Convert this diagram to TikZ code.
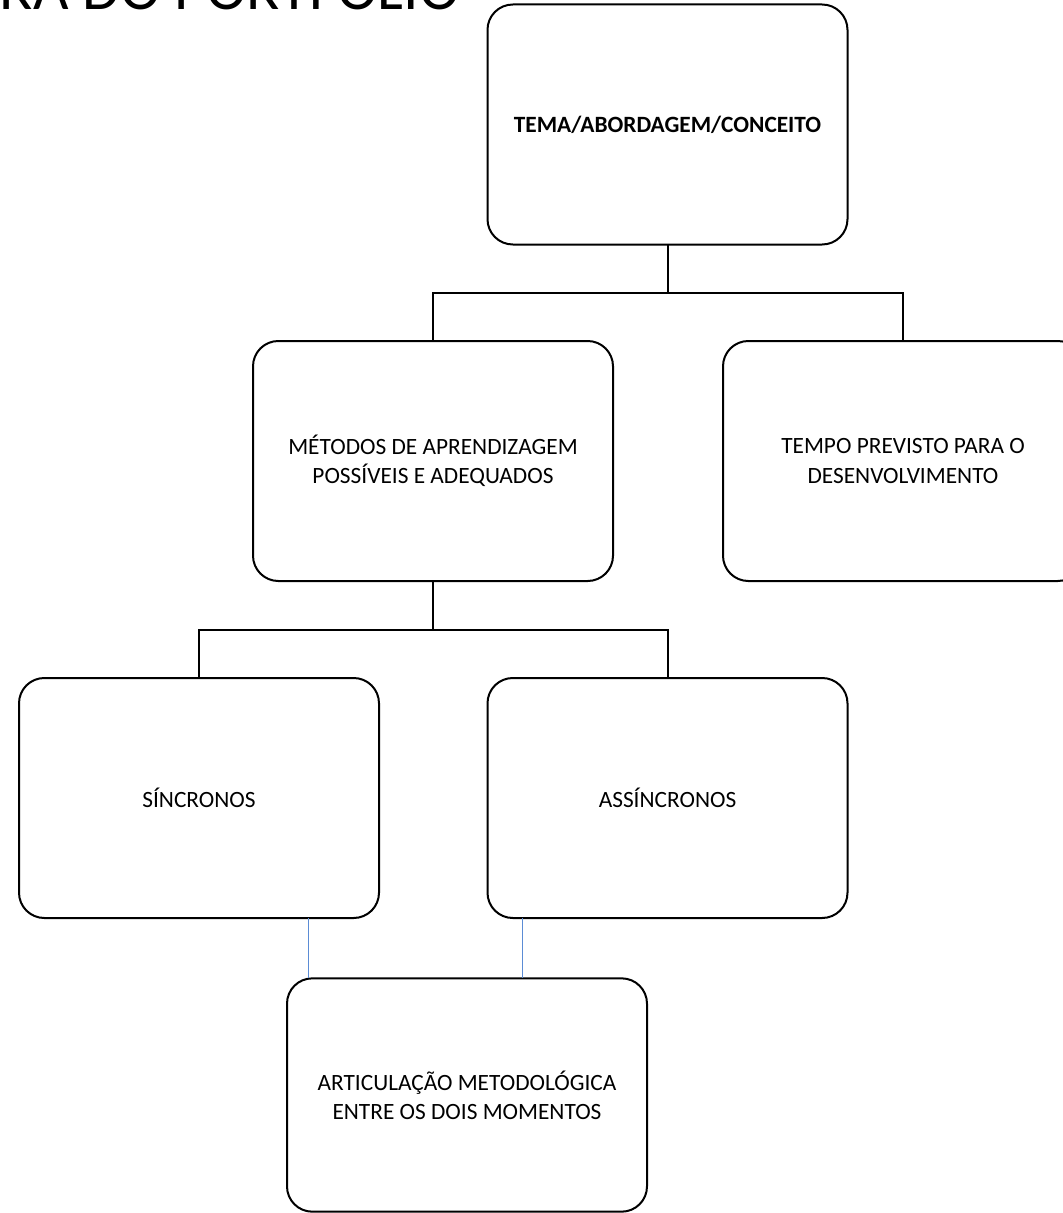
\documentclass[tikz,border=0pt]{standalone}
\usepackage{fontspec}
\setmainfont{Carlito}
\usepackage{tikz}
\usetikzlibrary{positioning}
\definecolor{linkblue}{RGB}{91,140,213}

\begin{document}
\begin{tikzpicture}[x=0.75pt,y=-0.75pt]
  \tikzset{BoxStyle/.style = {
    shape          = rectangle,
    draw           = black,
    fill           = white,
    rounded corners = 19pt,
    line width     = 1.5pt,
    text           = black,
    align          = center,
    font           = \fontsize{17.5}{22}\selectfont,
    inner sep      = 2pt,
    outer sep      = 0pt,
    minimum width  = 270pt,
    minimum height = 180pt
    }
  }
  \tikzset{EdgeStyle/.style = {
    draw       = black,
    line width = 1.5pt
    }
  }
  \tikzset{LinkStyle/.style = {
    draw       = linkblue,
    line width = 0.75pt
    }
  }
  \tikzset{TitleStyle/.style = {
    inner sep = 0pt,
    font      = \fontsize{46}{50}\selectfont
    }
  }

  \useasboundingbox (0,0) rectangle (1063,1213);

	\node[TitleStyle, anchor=base east](Titulo) at (460, 10) {ESTRUTURA DO PORTFÓLIO};
	%
	\node[BoxStyle](Tema) at (667.5, 124.5) {\textbf{TEMA/ABORDAGEM/CONCEITO}};
	\node[BoxStyle](Metodos) at (433, 461) {MÉTODOS DE APRENDIZAGEM\\ POSSÍVEIS E ADEQUADOS};
	\node[BoxStyle](Tempo) at (903, 461) {TEMPO PREVISTO PARA O\\ DESENVOLVIMENTO};
	\node[BoxStyle](Sincronos) at (199, 798) {SÍNCRONOS};
	\node[BoxStyle](Assincronos) at (667.5, 798) {ASSÍNCRONOS};
	\node[BoxStyle, minimum height=175pt](Articulacao) at (467, 1095) {ARTICULAÇÃO METODOLÓGICA\\ ENTRE OS DOIS MOMENTOS};

	%
	\draw[EdgeStyle](Tema.south) -- ++(0, 48.5) -| (Metodos.north);
	\draw[EdgeStyle](Tema.south) -- ++(0, 48.5) -| (Tempo.north);
	\draw[EdgeStyle](Metodos.south) -- ++(0, 48.5) -| (Sincronos.north);
	\draw[EdgeStyle](Metodos.south) -- ++(0, 48.5) -| (Assincronos.north);
	\draw[LinkStyle](Articulacao.north west) ++(21, 0) coordinate (L1) -- (L1 |- Sincronos.south);
	\draw[LinkStyle](Articulacao.north west) ++(235, 0) coordinate (L2) -- (L2 |- Assincronos.south);

\end{tikzpicture}
\end{document}
